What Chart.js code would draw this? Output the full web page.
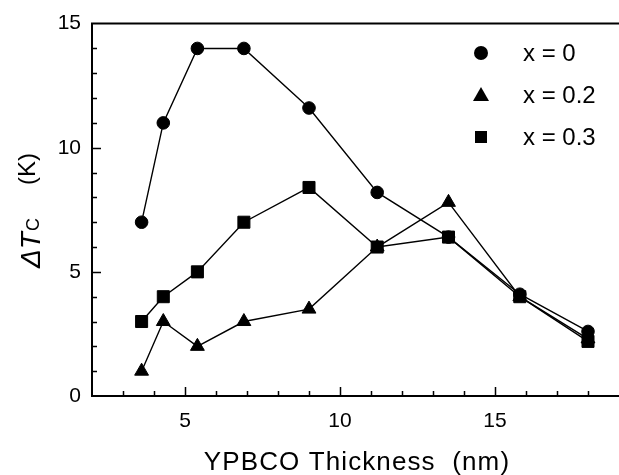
<!DOCTYPE html>
<html>
<head>
<meta charset="utf-8">
<script src="https://cdn.jsdelivr.net/npm/chart.js@4.4.0/dist/chart.umd.min.js"></script>
<style>
  html, body { margin: 0; padding: 0; background: #fff; overflow: hidden; }
  canvas { display: block; }
</style>
</head>
<body>
<canvas id="chart" width="619" height="475"></canvas>
<script>
// Данные
const thickness = [3.6, 4.3, 5.4, 6.9, 9.0, 11.2, 13.5, 15.8, 18.0];
const dTcX0 = [7.0, 11.0, 14.0, 14.0, 11.6, 8.2, 6.4, 4.1, 2.6];
const dTcX02 = [1.0, 3.0, 2.0, 3.0, 3.5, 6.0, 7.8, 4.0, 2.3];
const dTcX03 = [3.0, 4.0, 5.0, 7.0, 8.4, 6.0, 6.4, 4.0, 2.2];
const seriesLabels = ['x = 0', 'x = 0.2', 'x = 0.3'];
const xTickLabels = [5, 10, 15];
const yTickLabels = [0, 5, 10, 15];

const FONT = "'Liberation Sans', Arial, sans-serif";

function toPoints(ys) {
    return thickness.map((x, i) => ({ x, y: ys[i] }));
}

function series(label, ys, style, radius) {
    return {
        label,
        data: toPoints(ys),
        borderColor: '#000',
        backgroundColor: '#000',
        borderWidth: 1.4,
        pointStyle: style,
        pointRadius: radius,
        pointBackgroundColor: '#000',
        pointBorderColor: '#000',
        pointBorderWidth: 1,
        tension: 0,
        fill: false,
    };
}

// Рамка, засечки внутрь, легенда и подписи осей
const decorations = {
    id: 'decorations',
    beforeDatasetsDraw(chart) {
        const { ctx, chartArea: a, scales: { x, y } } = chart;
        ctx.save();
        ctx.strokeStyle = '#000';
        ctx.lineWidth = 2;
        ctx.beginPath();
        ctx.moveTo(a.right + 2, a.top);
        ctx.lineTo(a.left, a.top);
        ctx.lineTo(a.left, a.bottom);
        ctx.lineTo(a.right + 2, a.bottom);
        ctx.stroke();

        ctx.lineWidth = 1.5;
        ctx.beginPath();
        for (let v = 3; v < 19; v++) {
            const px = Math.round(x.getPixelForValue(v)) + 0.5;
            const len = xTickLabels.includes(v) ? 9 : 5;
            ctx.moveTo(px, a.bottom);
            ctx.lineTo(px, a.bottom - len);
        }
        for (let v = 1; v < 15; v++) {
            const py = Math.round(y.getPixelForValue(v)) + 0.5;
            const len = yTickLabels.includes(v) ? 9 : 5;
            ctx.moveTo(a.left, py);
            ctx.lineTo(a.left + len, py);
        }
        ctx.stroke();
        ctx.restore();
    },
    afterDraw(chart) {
        const { ctx } = chart;
        ctx.save();
        ctx.fillStyle = '#000';

        // легенда
        const lx = 481, ly = 53, step = 42;
        chart.data.datasets.forEach((ds, i) => {
            const cy = ly + i * step;
            ctx.beginPath();
            if (ds.pointStyle === 'circle') {
                ctx.arc(lx, cy, 7, 0, Math.PI * 2);
            } else if (ds.pointStyle === 'triangle') {
                ctx.moveTo(lx, cy - 8);
                ctx.lineTo(lx + 8, cy + 6);
                ctx.lineTo(lx - 8, cy + 6);
                ctx.closePath();
            } else {
                ctx.rect(lx - 6, cy - 6, 12, 12);
            }
            ctx.fill();
            ctx.font = '24px ' + FONT;
            ctx.textBaseline = 'middle';
            ctx.textAlign = 'left';
            ctx.fillText(ds.label, 523, cy + 1);
        });

        // подпись оси X
        ctx.font = '26px ' + FONT;
        ctx.textAlign = 'center';
        ctx.textBaseline = 'alphabetic';
        if ('letterSpacing' in ctx) ctx.letterSpacing = '1.1px';
        ctx.fillText('YPBCO Thickness  (nm)', 357, 470);
        if ('letterSpacing' in ctx) ctx.letterSpacing = '0px';

        // подпись оси Y: ΔT с индексом C, затем (K)
        ctx.translate(40, 268);
        ctx.rotate(-Math.PI / 2);
        ctx.textAlign = 'left';
        ctx.textBaseline = 'alphabetic';
        ctx.font = 'italic 28px ' + FONT;
        ctx.fillText('ΔT', 0, 0);
        const w = ctx.measureText('ΔT').width;
        ctx.font = '18px ' + FONT;
        ctx.fillText('C', w + 1, -1);
        ctx.font = '24px ' + FONT;
        ctx.fillText('(K)', 83, -5);
        ctx.restore();
    },
};

new Chart(document.getElementById('chart'), {
    type: 'line',
    data: {
        datasets: [
            series(seriesLabels[0], dTcX0, 'circle', 6.3),
            series(seriesLabels[1], dTcX02, 'triangle', 8),
            series(seriesLabels[2], dTcX03, 'rect', 8.5),
        ],
    },
    options: {
        responsive: false,
        animation: false,
        layout: { autoPadding: false, padding: { top: 21, right: 0, left: 0, bottom: 0 } },
        plugins: {
            legend: { display: false },
            tooltip: { enabled: false },
        },
        scales: {
            x: {
                type: 'linear',
                min: 2,
                max: 19,
                grid: { display: false, drawTicks: false },
                border: { display: false },
                afterBuildTicks: (s) => { s.ticks = xTickLabels.map((v) => ({ value: v })); },
                afterFit: (s) => { s.height = 79; s.paddingLeft = 0; s.paddingRight = 0; },
                ticks: {
                    color: '#000',
                    font: { family: FONT, size: 21 },
                    padding: 13,
                    maxRotation: 0,
                },
            },
            y: {
                min: 0,
                max: 15,
                grid: { display: false, drawTicks: false },
                border: { display: false },
                afterBuildTicks: (s) => { s.ticks = yTickLabels.map((v) => ({ value: v })); },
                afterFit: (s) => { s.width = 92; },
                ticks: {
                    color: '#000',
                    font: { family: FONT, size: 21 },
                    padding: 11,
                },
            },
        },
    },
    plugins: [decorations],
});
</script>
</body>
</html>
